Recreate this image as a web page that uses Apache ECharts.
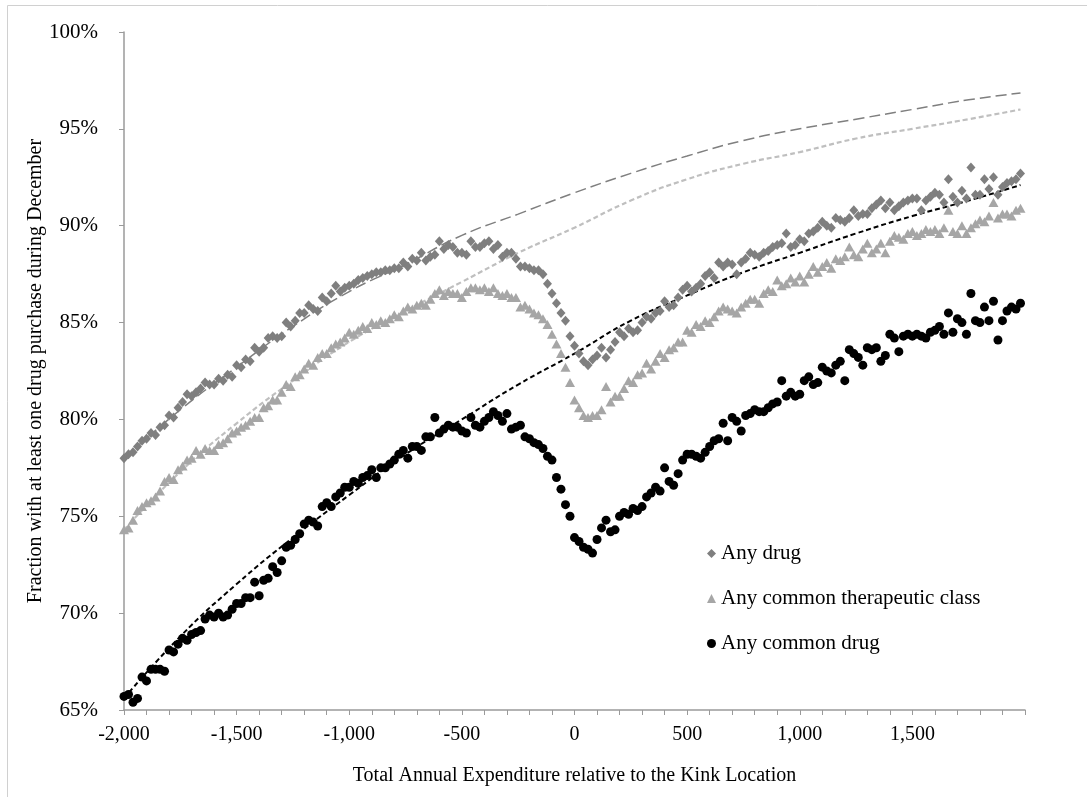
<!DOCTYPE html>
<html>
<head>
<meta charset="utf-8">
<script src="https://cdn.jsdelivr.net/npm/echarts@6/dist/echarts.min.js"></script>
<style>
  html, body { margin: 0; padding: 0; background: #fff; }
  #chart { width: 1087px; height: 797px; }
</style>
</head>
<body>
<div id="chart"></div>
<script>
// expenditure bins, 20 apart
var binStart = -2000;
var binStep = 20;

// Any drug (diamonds)
var anyDrug = [
  78.0, 78.2, 78.3, 78.6, 78.9, 79.0, 79.3, 79.2, 79.6, 79.7,
  80.2, 80.1, 80.6, 80.9, 81.3, 81.2, 81.4, 81.6, 81.9, 81.8,
  81.8, 82.1, 82.0, 82.3, 82.2, 82.8, 82.7, 83.1, 83.0, 83.7,
  83.5, 83.7, 84.2, 84.3, 84.2, 84.3, 85.0, 84.8, 85.1, 85.5,
  85.5, 85.9, 85.7, 85.6, 86.3, 86.1, 86.5, 86.9, 86.6, 86.8,
  86.9, 87.0, 87.2, 87.3, 87.4, 87.5, 87.6, 87.6, 87.7, 87.7,
  87.8, 87.8, 88.1, 87.9, 88.3, 88.2, 88.6, 88.2, 88.4, 88.5,
  89.2, 88.8, 89.0, 88.9, 88.6, 88.6, 88.5, 89.2, 88.9, 88.9,
  89.1, 89.2, 88.8, 89.0, 88.4, 88.6, 88.6, 88.3, 87.9, 87.9,
  87.8, 87.7, 87.7, 87.5, 87.0, 86.5, 86.0, 85.5, 85.1, 84.3,
  83.8, 83.4, 83.0, 82.8, 83.1, 83.3, 83.7, 83.2, 83.6, 84.0,
  84.5, 84.3, 84.7, 84.5, 84.6, 85.0, 85.3, 85.2, 85.5, 85.6,
  86.1, 85.8, 85.9, 86.3, 86.7, 86.9, 86.6, 86.8, 87.0, 87.4,
  87.6, 87.3, 88.1, 87.9, 88.1, 88.0, 87.5, 88.1, 88.3, 88.6,
  88.5, 88.4, 88.6, 88.7, 88.9, 89.0, 89.1, 89.6, 88.9, 89.0,
  89.3, 89.2, 89.6, 89.7, 89.9, 90.2, 90.0, 89.9, 90.4, 90.3,
  90.2, 90.4, 90.8, 90.5, 90.6, 90.6, 90.9, 91.1, 91.3, 90.9,
  91.2, 90.8, 91.0, 91.2, 91.3, 91.4, 91.4, 90.8, 91.3, 91.5,
  91.7, 91.6, 91.2, 92.4, 91.5, 91.2, 91.8, 91.4, 93.0, 91.6,
  91.6, 92.4, 91.9, 92.5, 91.6, 92.0, 92.2, 92.3, 92.4, 92.7
];

// Any common therapeutic class (triangles)
var anyClass = [
  74.3, 74.4, 74.8, 75.3, 75.5, 75.7, 75.8, 76.0, 76.3, 76.8,
  77.0, 76.9, 77.4, 77.6, 77.9, 78.0, 78.4, 78.2, 78.5, 78.4,
  78.4, 78.7, 78.8, 79.0, 79.3, 79.4, 79.6, 79.7, 79.9, 80.1,
  80.1, 80.6, 80.7, 81.0, 81.0, 81.4, 81.8, 81.7, 82.2, 82.3,
  82.6, 82.9, 82.8, 83.2, 83.4, 83.4, 83.7, 83.9, 84.0, 84.2,
  84.5, 84.4, 84.6, 84.8, 84.7, 85.0, 84.9, 85.1, 85.0, 85.2,
  85.4, 85.3, 85.6, 85.8, 85.7, 85.9, 86.0, 85.9, 86.2, 86.5,
  86.7, 86.4, 86.6, 86.5, 86.5, 86.3, 86.6, 86.8, 86.8, 86.7,
  86.8, 86.6, 86.8, 86.5, 86.4, 86.5, 86.3, 86.3, 85.8, 85.9,
  85.7, 85.5, 85.4, 85.2, 84.9, 84.4, 83.9, 83.4, 82.7, 81.9,
  81.0, 80.6, 80.2, 80.1, 80.2, 80.2, 80.5, 81.7, 80.9, 81.2,
  81.2, 81.6, 82.0, 81.9, 82.3, 82.4, 82.9, 82.6, 83.0, 83.4,
  83.2, 83.6, 83.7, 84.0, 84.0, 84.6, 84.5, 84.9, 84.8, 85.1,
  85.0, 85.3, 85.6, 85.8, 85.7, 85.6, 85.5, 85.8, 86.0, 86.2,
  86.2, 86.0, 86.5, 86.7, 86.6, 87.2, 86.9, 87.0, 87.3, 87.1,
  87.4, 87.1, 87.5, 87.9, 87.6, 87.9, 88.1, 87.8, 88.3, 88.2,
  88.4, 88.9, 88.5, 88.4, 88.8, 89.1, 88.6, 88.8, 89.1, 88.6,
  89.2, 89.5, 89.4, 89.3, 89.6, 89.7, 89.5, 89.6, 89.8, 89.7,
  89.8, 89.6, 89.9, 90.8, 89.7, 89.6, 90.0, 89.6, 89.9, 90.1,
  90.3, 90.2, 90.5, 91.2, 90.4, 90.6, 90.6, 90.5, 90.8, 90.9
];

// Any common drug (black dots)
var anyCommon = [
  65.7, 65.8, 65.4, 65.6, 66.7, 66.5, 67.1, 67.1, 67.1, 67.0,
  68.1, 68.0, 68.4, 68.7, 68.6, 68.9, 69.0, 69.1, 69.7, 69.9,
  69.8, 70.0, 69.8, 69.9, 70.2, 70.5, 70.5, 70.8, 70.8, 71.6,
  70.9, 71.7, 71.8, 72.4, 72.1, 72.7, 73.4, 73.5, 73.8, 74.1,
  74.6, 74.8, 74.7, 74.5, 75.5, 75.7, 75.5, 76.0, 76.2, 76.5,
  76.5, 76.8, 76.7, 77.0, 77.1, 77.4, 77.0, 77.5, 77.5, 77.7,
  77.9, 78.2, 78.4, 78.0, 78.6, 78.6, 78.4, 79.1, 79.1, 80.1,
  79.3, 79.5, 79.7, 79.6, 79.6, 79.4, 79.3, 80.1, 79.7, 79.6,
  79.9, 80.1, 80.4, 80.2, 79.9, 80.3, 79.5, 79.6, 79.7, 79.1,
  79.0, 78.8, 78.7, 78.5, 78.1, 77.9, 77.0, 76.4, 75.6, 75.0,
  73.9, 73.7, 73.4, 73.3, 73.1, 73.8, 74.4, 74.8, 74.2, 74.3,
  75.0, 75.2, 75.1, 75.4, 75.3, 75.5, 76.0, 76.2, 76.5, 76.3,
  77.5, 76.8, 76.6, 77.2, 77.9, 78.2, 78.2, 78.1, 78.0, 78.3,
  78.6, 78.9, 79.0, 79.8, 78.9, 80.1, 79.9, 79.4, 80.2, 80.3,
  80.5, 80.4, 80.4, 80.6, 80.8, 80.9, 82.0, 81.2, 81.4, 81.2,
  81.3, 82.0, 82.2, 81.8, 81.9, 82.7, 82.5, 82.4, 82.8, 83.0,
  82.0, 83.6, 83.4, 83.2, 82.8, 83.7, 83.6, 83.7, 83.0, 83.3,
  84.4, 84.2, 83.5, 84.3, 84.4, 84.3, 84.4, 84.3, 84.2, 84.5,
  84.6, 84.8, 84.4, 85.5, 84.5, 85.2, 85.0, 84.4, 86.5, 85.1,
  85.0, 85.8, 85.1, 86.1, 84.1, 85.1, 85.6, 85.8, 85.7, 86.0
];

var trendX = [-2000, -1750, -1500, -1250, -1000, -750, -500, -250, 0, 250, 500, 750, 1000, 1250, 1500, 1750, 1980];
var anyDrugTrend = [78.0, 80.5, 82.7, 84.8, 86.6, 88.0, 89.5, 90.6, 91.7, 92.7, 93.6, 94.4, 95.0, 95.5, 96.0, 96.5, 96.85];
var anyClassTrend = [74.3, 77.3, 79.8, 82.0, 84.0, 85.6, 87.1, 88.6, 89.9, 91.3, 92.4, 93.2, 93.8, 94.5, 95.0, 95.5, 96.0];
var anyCommonTrend = [65.6, 68.8, 71.5, 73.9, 76.1, 78.2, 80.0, 81.8, 83.4, 85.1, 86.4, 87.6, 88.6, 89.6, 90.5, 91.3, 92.1];

var seriesNames = ['Any drug', 'Any common therapeutic class', 'Any common drug'];

function pairs(vals) {
    var out = [];
    for (var i = 0; i < vals.length; i++) {
        out.push([binStart + i * binStep, vals[i]]);
    }
    return out;
}
function trendPairs(vals) {
    return trendX.map(function (x, i) { return [x, vals[i]]; });
}

var font = 'Liberation Serif, Times New Roman, serif';
var axisGray = '#9a9a9a';

var chart = echarts.init(document.getElementById('chart'));

var option = {
    backgroundColor: '#fff',
    animation: false,
    textStyle: { fontFamily: font },
    graphic: [{
        type: 'rect',
        shape: { x: 7.5, y: 5.5, width: 1200, height: 900 },
        style: { fill: 'none', stroke: '#d0d0d0', lineWidth: 1 },
        silent: true
    }],
    grid: { left: 124, right: 62, top: 32, bottom: 87 },
    legend: {
        orient: 'vertical',
        left: 702,
        top: 538,
        itemGap: 24,
        itemWidth: 9,
        itemHeight: 9,
        textStyle: { fontFamily: font, fontSize: 21, color: '#000' },
        data: [
            { name: seriesNames[0], icon: 'diamond' },
            { name: seriesNames[1], icon: 'triangle' },
            { name: seriesNames[2], icon: 'circle' }
        ]
    },
    xAxis: {
        type: 'value',
        min: -2000,
        max: 2000,
        interval: 500,
        name: 'Total Annual Expenditure relative to the Kink Location',
        nameLocation: 'middle',
        nameGap: 56,
        nameTextStyle: { fontFamily: font, fontSize: 20, color: '#000' },
        axisLine: { show: true, onZero: false, lineStyle: { color: axisGray, width: 1.5 } },
        axisTick: { show: true, length: 5, lineStyle: { color: axisGray } },
        minorTick: { show: true, splitNumber: 5, length: 5, lineStyle: { color: axisGray } },
        splitLine: { show: false },
        axisLabel: {
            fontFamily: font, fontSize: 20, color: '#000', margin: 15,
            formatter: function (v) {
                if (v >= 2000) return '';
                return v.toLocaleString('en-US');
            }
        }
    },
    yAxis: {
        type: 'value',
        min: 65,
        max: 100,
        interval: 5,
        name: 'Fraction with at least one drug purchase during December',
        nameLocation: 'middle',
        nameGap: 78,
        nameMoveOverlap: false,
        nameTextStyle: { fontFamily: font, fontSize: 20, color: '#000' },
        axisLine: { show: true, onZero: false, lineStyle: { color: axisGray, width: 1.5 } },
        axisTick: { show: true, length: 5, lineStyle: { color: axisGray } },
        splitLine: { show: false },
        axisLabel: { fontFamily: font, fontSize: 21, color: '#000', margin: 26, formatter: '{value}%' }
    },
    series: [
        {
            name: 'trend any drug',
            type: 'line',
            smooth: true,
            showSymbol: false,
            silent: true,
            z: 1,
            lineStyle: { color: '#7f7f7f', width: 1.5, type: [11, 5] },
            data: trendPairs(anyDrugTrend)
        },
        {
            name: 'trend class',
            type: 'line',
            smooth: true,
            showSymbol: false,
            silent: true,
            z: 1,
            lineStyle: { color: '#bfbfbf', width: 2.2, type: [5, 3] },
            data: trendPairs(anyClassTrend)
        },
        {
            name: 'trend common',
            type: 'line',
            smooth: true,
            showSymbol: false,
            silent: true,
            z: 1,
            lineStyle: { color: '#000', width: 2, type: [5, 3] },
            data: trendPairs(anyCommonTrend)
        },
        {
            name: seriesNames[0],
            type: 'scatter',
            symbol: 'diamond',
            symbolSize: [9, 10],
            itemStyle: { color: '#7f7f7f', opacity: 1 },
            z: 3,
            data: pairs(anyDrug)
        },
        {
            name: seriesNames[1],
            type: 'scatter',
            symbol: 'triangle',
            symbolSize: [10, 9],
            itemStyle: { color: '#a6a6a6', opacity: 1 },
            z: 3,
            data: pairs(anyClass)
        },
        {
            name: seriesNames[2],
            type: 'scatter',
            symbol: 'circle',
            symbolSize: 9,
            itemStyle: { color: '#000', opacity: 1 },
            z: 4,
            data: pairs(anyCommon)
        }
    ]
};

chart.setOption(option);
</script>
</body>
</html>
